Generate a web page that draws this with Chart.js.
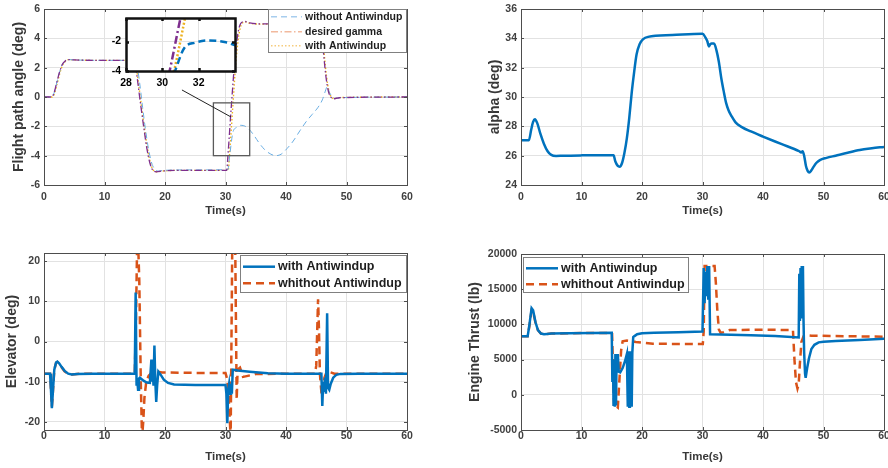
<!DOCTYPE html>
<html lang="en">
<head>
  <meta charset="UTF-8">
  <title>Antiwindup comparison</title>
  <script src="https://cdn.jsdelivr.net/npm/chart.js"></script>
  <style>
    * { margin: 0; padding: 0; box-sizing: border-box; }
    body {
      width: 888px;
      height: 468px;
      background: #fff;
      position: relative;
      overflow: hidden;
    }
    .panel { position: absolute; width: 444px; height: 234px; }
    #insetBox { position: absolute; left: 96px; top: 10px; width: 146px; height: 84px; z-index: 2; }
  </style>
</head>
<body>

  <div class="panel" style="left:0;top:0"><canvas id="gammaChart"></canvas></div>
  <div class="panel" style="left:444px;top:0"><canvas id="alphaChart"></canvas></div>
  <div class="panel" style="left:0;top:234px"><canvas id="elevChart"></canvas></div>
  <div class="panel" style="left:444px;top:234px"><canvas id="thrustChart"></canvas></div>
  <div id="insetBox"><canvas id="insetChart"></canvas></div>

  <script>
    // flight path angle (deg)
    const gammaDesT = [0, 1.2, 1.6, 2.0, 2.5, 3.0, 3.5, 4.0, 5, 8, 14.9, 15.1, 15.5, 16.0, 16.5, 17.0, 17.5, 18.0, 18.6, 19.5, 22, 30.2, 30.4, 31.0, 31.5, 32.0, 32.5, 33.2, 34, 36, 45.6, 45.9, 46.2, 46.6, 47.0, 47.4, 48.0, 48.8, 60];
    const gammaDes  = [0, 0, 0.2, 0.8, 1.6, 2.2, 2.45, 2.55, 2.53, 2.5, 2.5, 2.2, 1.0, -0.6, -2.1, -3.5, -4.5, -5.0, -5.1, -5.05, -5.0, -5.0, -4.0, -0.4, 2.3, 4.2, 5.0, 5.15, 5.05, 4.98, 4.95, 4.4, 3.0, 1.4, 0.4, 0.0, -0.12, -0.05, 0];

    const gammaWithT = [0, 1.3, 1.7, 2.1, 2.6, 3.1, 3.6, 4.1, 5, 8, 15.0, 15.2, 15.6, 16.1, 16.6, 17.1, 17.6, 18.1, 18.7, 19.6, 22, 30.45, 30.65, 31.25, 31.7, 32.2, 32.7, 33.3, 34, 36, 45.7, 46.0, 46.3, 46.7, 47.1, 47.5, 48.1, 48.9, 60];
    const gammaWith  = [0, 0, 0.2, 0.8, 1.6, 2.2, 2.45, 2.55, 2.53, 2.5, 2.5, 2.2, 1.0, -0.6, -2.1, -3.5, -4.5, -5.0, -5.1, -5.05, -5.0, -5.0, -4.0, -0.4, 2.3, 4.2, 5.0, 5.12, 5.03, 4.97, 4.95, 4.4, 3.0, 1.4, 0.4, 0.0, -0.1, -0.04, 0];

    const gammaWoT = [0, 1.2, 1.6, 2.0, 2.5, 3.0, 3.5, 4.0, 5, 8, 15.1, 15.4, 15.8, 16.3, 16.8, 17.3, 17.8, 18.3, 18.9, 19.8, 25, 30.4, 30.7, 31.2, 31.8, 32.5, 33.5, 34.5, 35.5, 36.5, 37.5, 38.3, 39.2, 40.2, 41.2, 42.3, 43.3, 44.3, 45.3, 46.0, 46.5, 46.8, 47.2, 47.6, 48.1, 48.9, 60];
    const gammaWo  = [0, 0, 0.2, 0.8, 1.6, 2.2, 2.45, 2.55, 2.53, 2.5, 2.5, 2.1, 1.0, -0.7, -2.3, -3.6, -4.5, -4.9, -5.05, -5.0, -4.97, -4.95, -4.0, -2.45, -2.08, -1.93, -2.05, -2.5, -3.1, -3.6, -3.9, -4.0, -3.9, -3.5, -3.0, -2.3, -1.7, -1.2, -0.7, -0.2, 0.4, 0.7, 0.3, 0.05, -0.1, -0.05, 0];

    // angle of attack (deg)
    const alphaT   = [0, 1.3, 1.7, 2.0, 2.3, 2.7, 3.2, 3.8, 4.4, 5.0, 5.8, 7, 10, 15.0, 15.3, 15.6, 16.0, 16.3, 16.7, 17.1, 17.5, 17.9, 18.3, 18.7, 19.1, 19.6, 20.2, 21, 25, 30.0, 30.5, 30.8, 31.05, 31.3, 31.5, 31.9, 32.3, 32.7, 33.1, 33.5, 33.9, 34.3, 34.8, 35.5, 36.5, 38, 40, 43, 46.0, 46.3, 46.55, 46.8, 47.1, 47.4, 47.65, 48.0, 48.3, 48.8, 49.4, 50.5, 52, 54, 56, 58, 60];
    const alphaDeg = [27.05, 27.05, 27.8, 28.3, 28.48, 28.2, 27.5, 26.8, 26.3, 26.05, 25.98, 26.0, 26.02, 26.03, 26.03, 25.6, 25.3, 25.25, 25.5, 26.2, 27.2, 28.6, 30.3, 31.7, 32.9, 33.6, 33.95, 34.1, 34.22, 34.32, 34.05, 33.8, 33.45, 33.6, 33.65, 33.65, 33.2, 32.4, 31.3, 30.4, 29.6, 29.1, 28.7, 28.25, 27.95, 27.65, 27.3, 26.8, 26.3, 26.22, 26.3, 26.0, 25.3, 24.95, 24.85, 25.0, 25.2, 25.5, 25.7, 25.85, 26.0, 26.2, 26.38, 26.5, 26.6];

    // elevator deflection (deg)
    const elevWithT = [0, 1.0, 1.15, 1.3, 1.45, 1.7, 2.0, 2.2, 2.5, 2.9, 3.4, 4.0, 4.6, 5.5, 8, 15.0, 15.15, 15.3, 15.4, 15.55, 15.7, 15.85, 16.1, 16.5, 17.0, 17.5, 17.75, 17.85, 17.95, 18.1, 18.25, 18.4, 18.55, 18.7, 18.9, 19.3, 19.8, 20.5, 21.5, 25, 30.0, 30.15, 30.3, 30.45, 30.6, 30.75, 30.9, 31.05, 31.2, 31.35, 32, 34, 37, 40, 45.85, 46.0, 46.15, 46.3, 46.45, 46.6, 46.8, 46.95, 47.15, 47.4, 47.8, 48.3, 49, 52, 60];
    const elevWith  = [-8, -8, -12, -16.6, -13, -7, -5.2, -5.0, -5.4, -6.3, -7.3, -8.0, -8.2, -8.05, -8, -8, 12.2, -11, -9.5, -12, -9.2, -9.0, -9.3, -9.8, -10.2, -10.3, -4.5, -10, -6, -11, -1, -10, -15, -11, -7.5, -8.3, -9.5, -10.3, -10.7, -10.8, -10.8, -13, -20.3, -12, -10.5, -13, -10.5, -13, -7.0, -7.0, -7.2, -7.5, -7.9, -8.0, -8.0, -16, -10, -12.5, -9, -13, 7.0, -11.5, -12, -10.5, -9, -8.3, -8.05, -8, -8];

    const elevWoT = [0, 1.0, 1.15, 1.3, 1.45, 1.7, 2.0, 2.2, 2.5, 2.9, 3.4, 4.0, 4.6, 5.5, 8, 15.0, 15.2, 15.45, 15.75, 16.0, 16.2, 16.4, 16.6, 16.9, 17.3, 17.8, 18.6, 19.5, 25, 30.0, 30.3, 30.6, 30.85, 31.15, 31.35, 31.6, 31.85, 32.0, 32.4, 32.9, 33.5, 35, 40, 44.8, 45.0, 45.3, 45.45, 45.6, 45.9, 46.1, 46.35, 46.7, 47.2, 48, 60];
    const elevWo  = [-8, -8, -12, -16.2, -13, -7, -5.3, -5.1, -5.5, -6.4, -7.4, -8.0, -8.2, -8.05, -8, -8, 5, 30, 15, -10, -24, -20, -14, -10, -8.5, -7.8, -7.5, -7.7, -7.8, -7.8, -9.5, -16, -24, 30, 26, 25, -14.5, -7, -6.5, -8.8, -8.6, -8.1, -8, -8, -6, 10.5, 3, -8, -13.5, -12, -9, -7.6, -7.6, -8, -8];

    // engine thrust (lb)
    const thrustWithT = [0, 1.1, 1.4, 1.75, 2.0, 2.4, 2.8, 3.3, 3.8, 4.3, 5, 8, 15.0, 15.1, 15.2, 15.3, 15.4, 15.5, 15.6, 15.7, 15.8, 15.9, 16.0, 16.15, 16.4, 16.8, 17.2, 17.5, 17.65, 17.8, 17.9, 18.0, 18.1, 18.2, 18.3, 18.4, 18.55, 18.7, 19.2, 20, 22, 26, 30.0, 30.2, 30.35, 30.5, 30.65, 30.8, 30.95, 31.1, 31.25, 33, 38, 42, 45.9, 46.0, 46.1, 46.2, 46.3, 46.4, 46.5, 46.6, 46.7, 46.8, 46.95, 47.05, 47.3, 47.6, 48.0, 48.5, 49.2, 50, 52, 56, 60];
    const thrustWith  = [8300, 8300, 10000, 12300, 12000, 10300, 9200, 8700, 8600, 8650, 8700, 8750, 8800, 2000, 5000, -1600, 4500, -1700, 5800, -1500, 5500, 3500, 5800, 3300, 3200, 3800, 4800, 5800, -1700, 6200, -1700, 6000, -1700, 6200, -1700, 6000, 8200, 8300, 8600, 8750, 8800, 8900, 9000, 18000, 13000, 17500, 14000, 18300, 13500, 18300, 8600, 8550, 8450, 8350, 8150, 17200, 10500, 18000, 11000, 18300, 12000, 18300, 10500, 6000, 3000, 2400, 3800, 5200, 6500, 7100, 7450, 7550, 7650, 7800, 7950];

    const thrustWoT = [0, 1.1, 1.4, 1.75, 2.0, 2.4, 2.8, 3.3, 3.8, 4.3, 5, 8, 15.05, 15.2, 15.4, 15.7, 16.0, 16.3, 16.55, 16.8, 17.5, 19, 21.8, 30.05, 30.2, 30.35, 32.0, 32.2, 32.45, 32.7, 33.0, 33.5, 34.5, 40, 44.95, 45.2, 45.45, 45.7, 45.9, 46.1, 46.35, 46.7, 47.3, 48, 52, 56, 60];
    const thrustWo  = [8300, 8300, 9800, 12000, 11800, 10200, 9200, 8700, 8600, 8650, 8700, 8750, 8800, 4000, -1800, -1600, -1800, 2600, 6300, 7600, 7700, 7500, 7250, 7200, 9000, 18300, 18300, 16000, 12000, 9300, 8800, 8900, 9200, 9250, 9200, 5000, 1800, 900, 1500, 4500, 7500, 8300, 8450, 8400, 8350, 8300, 8250];

    // axis ticks
    const timeTicks   = [0, 10, 20, 30, 40, 50, 60];
    const gammaTicks  = [-6, -4, -2, 0, 2, 4, 6];
    const alphaTicks  = [24, 26, 28, 30, 32, 34, 36];
    const elevTicks   = [-20, -10, 0, 10, 20];
    const thrustTicks = [-5000, 0, 5000, 10000, 15000, 20000];
    const zoomTimeTicks  = [28, 30, 32];
    const zoomGammaTicks = [-4, -2];

    const FONT = "'Liberation Sans', Arial, sans-serif";
    const TICK_COLOR = '#404040';
    const TITLE_COLOR = '#383838';
    const GRID_COLOR = '#e2e2e2';
    Chart.defaults.font.family = FONT;

    const pts = (xs, ys) => xs.map((x, i) => ({ x: x, y: ys[i] }));

    // axes box with small inward ticks on all four sides
    const framePlugin = {
      id: 'frame',
      afterDraw(chart, args, o) {
        const { ctx, chartArea: a, scales } = chart;
        const len = o.tick || 3;
        const L = Math.round(a.left), R = Math.round(a.right);
        const T = Math.round(a.top), B = Math.round(a.bottom);
        ctx.save();
        ctx.strokeStyle = o.color || '#4d4d4d';
        ctx.lineWidth = o.width || 1;
        ctx.beginPath();
        scales.x.ticks.forEach(t => {
          const px = Math.round(scales.x.getPixelForValue(t.value)) + 0.5;
          ctx.moveTo(px, T); ctx.lineTo(px, T + len);
          ctx.moveTo(px, B); ctx.lineTo(px, B - len);
        });
        scales.y.ticks.forEach(t => {
          const py = Math.round(scales.y.getPixelForValue(t.value)) + 0.5;
          ctx.moveTo(L, py); ctx.lineTo(L + len, py);
          ctx.moveTo(R, py); ctx.lineTo(R - len, py);
        });
        ctx.stroke();
        const off = (o.width || 1) % 2 ? 0.5 : 0;
        ctx.strokeRect(L + off, T + off, R - L, B - T);
        ctx.restore();
      }
    };

    // legend box drawn inside the axes
    const keyPlugin = {
      id: 'keyBox',
      afterDraw(chart, args, o) {
        if (!o || !o.box) return;
        const { ctx } = chart;
        const [l, t, w, h] = o.box;
        ctx.save();
        ctx.fillStyle = '#fff';
        ctx.fillRect(l, t, w, h);
        ctx.strokeStyle = '#808080';
        ctx.lineWidth = 1;
        ctx.strokeRect(l + 0.5, t + 0.5, w - 1, h - 1);
        ctx.font = 'bold ' + o.fontSize + 'px ' + FONT;
        ctx.textBaseline = 'middle';
        chart.data.datasets.forEach((ds, i) => {
          const y = o.rows[i];
          ctx.strokeStyle = ds.keyColor || ds.borderColor;
          ctx.lineWidth = ds.keyWidth || ds.borderWidth;
          ctx.setLineDash(ds.borderDash || []);
          ctx.beginPath();
          ctx.moveTo(o.line[0], y);
          ctx.lineTo(o.line[1], y);
          ctx.stroke();
          ctx.setLineDash([]);
          ctx.fillStyle = '#1e1e1e';
          ctx.fillText(ds.label, o.textX, y);
        });
        ctx.restore();
      }
    };

    // zoomed region outline and pointer towards the inset
    const zoomMarkPlugin = {
      id: 'zoomMark',
      afterDatasetsDraw(chart, args, o) {
        if (!o || !o.box) return;
        const { ctx, scales: { x, y } } = chart;
        const x0 = x.getPixelForValue(o.box[0]), x1 = x.getPixelForValue(o.box[1]);
        const y0 = y.getPixelForValue(o.box[2]), y1 = y.getPixelForValue(o.box[3]);
        ctx.save();
        ctx.strokeStyle = '#5a5a5a';
        ctx.lineWidth = 1.3;
        ctx.strokeRect(x0, y1, x1 - x0, y0 - y1);
        ctx.strokeStyle = '#222';
        ctx.lineWidth = 1;
        ctx.beginPath();
        ctx.moveTo(x.getPixelForValue(o.from[0]), y.getPixelForValue(o.from[1]));
        ctx.lineTo(x.getPixelForValue(o.to[0]), y.getPixelForValue(o.to[1]));
        ctx.stroke();
        ctx.restore();
      }
    };

    // white plot area for the inset (its canvas is transparent elsewhere)
    const insetBgPlugin = {
      id: 'insetBg',
      beforeDraw(chart) {
        const { ctx, chartArea: a } = chart;
        ctx.save();
        ctx.fillStyle = '#fff';
        ctx.fillRect(a.left, a.top, a.right - a.left, a.bottom - a.top);
        ctx.restore();
      }
    };

    function xAxis(tickList, c) {
      return {
        type: 'linear',
        min: c.min, max: c.max,
        afterBuildTicks: s => { s.ticks = tickList.map(v => ({ value: v })); },
        ticks: {
          color: c.tickColor || TICK_COLOR,
          font: { size: 10.5, weight: 'bold' },
          padding: c.tickPad,
          maxRotation: 0,
          autoSkip: false,
          callback: v => String(v)
        },
        grid: { color: GRID_COLOR, drawTicks: false },
        border: { display: false },
        title: {
          display: !!c.title,
          text: c.title,
          color: TITLE_COLOR,
          font: { size: 11.5, weight: 'bold' },
          padding: { top: 0, bottom: c.titlePad || 0 }
        },
        afterFit: s => { s.height = c.size; s.paddingLeft = 0; s.paddingRight = 0; }
      };
    }

    function yAxis(tickList, c) {
      return {
        type: 'linear',
        min: c.min, max: c.max,
        afterBuildTicks: s => { s.ticks = tickList.map(v => ({ value: v })); },
        ticks: {
          color: c.tickColor || TICK_COLOR,
          font: { size: 10.5, weight: 'bold' },
          padding: c.tickPad || 4,
          autoSkip: false,
          callback: v => String(v)
        },
        grid: { color: GRID_COLOR, drawTicks: false },
        border: { display: false },
        title: {
          display: !!c.title,
          text: c.title,
          color: TITLE_COLOR,
          font: { size: 14, weight: 'bold' },
          padding: { top: c.titlePad || 0, bottom: 0 }
        },
        afterFit: s => { s.width = c.size; s.paddingTop = 0; s.paddingBottom = 0; }
      };
    }

    function makeChart(id, datasets, c) {
      return new Chart(document.getElementById(id), {
        type: 'line',
        data: { datasets: datasets },
        options: {
          responsive: true,
          maintainAspectRatio: false,
          animation: false,
          events: [],
          layout: { padding: c.pad },
          elements: {
            point: { radius: 0 },
            line: c.smooth ? { cubicInterpolationMode: 'monotone' } : { tension: 0 }
          },
          scales: { x: c.x, y: c.y },
          plugins: {
            legend: { display: false },
            tooltip: { enabled: false },
            frame: c.frame || {},
            keyBox: c.key || {},
            zoomMark: c.zoom || {}
          }
        },
        plugins: c.plugins || [framePlugin, keyPlugin, zoomMarkPlugin]
      });
    }

    // flight path angle
    makeChart('gammaChart', [
      { label: 'without Antiwindup', data: pts(gammaWoT, gammaWo), borderColor: '#6aaee3', borderWidth: 1, borderDash: [6, 4], keyColor: '#a8cdee', keyWidth: 1.4, order: 2 },
      { label: 'desired gamma', data: pts(gammaDesT, gammaDes), borderColor: '#7E2F8E', borderWidth: 1.3, borderDash: [7, 2.5, 1.5, 2.5], keyColor: '#f2b99d', keyWidth: 1.4, order: 1 },
      { label: 'with Antiwindup', data: pts(gammaWithT, gammaWith), borderColor: '#EDB120', borderWidth: 1.4, borderDash: [1.5, 2], keyColor: '#f6cc7c', keyWidth: 1.5, order: 3 }
    ], {
      smooth: true,
      pad: { left: 0, top: 9, right: 37, bottom: 0 },
      x: xAxis(timeTicks, { min: 0, max: 60, size: 49, tickPad: 6, title: 'Time(s)', titlePad: 16 }),
      y: yAxis(gammaTicks, { min: -6, max: 6, size: 44, title: 'Flight path angle (deg)', titlePad: 10.6 }),
      key: { box: [268, 9, 139, 44], rows: [16.7, 31.8, 45.7], line: [271, 302], textX: 305, fontSize: 10.5 },
      zoom: { box: [28, 34, -4, -0.4], from: [22.8, 0.48], to: [30.9, -1.36] }
    });

    // angle of attack
    makeChart('alphaChart', [
      { label: 'alpha', data: pts(alphaT, alphaDeg), borderColor: '#0072BD', borderWidth: 2.5 }
    ], {
      smooth: true,
      pad: { left: 0, top: 9, right: 4, bottom: 0 },
      x: xAxis(timeTicks, { min: 0, max: 60, size: 49, tickPad: 6, title: 'Time(s)', titlePad: 16 }),
      y: yAxis(alphaTicks, { min: 24, max: 36, size: 77, title: 'alpha (deg)', titlePad: 42.6 })
    });

    // elevator
    makeChart('elevChart', [
      { label: 'with Antiwindup', data: pts(elevWithT, elevWith), borderColor: '#0072BD', borderWidth: 2.5 },
      { label: 'whithout Antiwindup', data: pts(elevWoT, elevWo), borderColor: '#D95319', borderWidth: 2.5, borderDash: [8, 5] }
    ], {
      pad: { left: 0, top: 19, right: 37, bottom: 0 },
      x: xAxis(timeTicks, { min: 0, max: 60, size: 38, tickPad: 0, title: 'Time(s)', titlePad: 4 }),
      y: yAxis(elevTicks, { min: -22, max: 22, size: 44, title: 'Elevator (deg)', titlePad: 4.1 }),
      key: { box: [240, 21, 167, 38], rows: [32.7, 49.3], line: [243, 275], textX: 278, fontSize: 12.5 }
    });

    // engine thrust
    makeChart('thrustChart', [
      { label: 'with Antiwindup', data: pts(thrustWithT, thrustWith), borderColor: '#0072BD', borderWidth: 2.5 },
      { label: 'whithout Antiwindup', data: pts(thrustWoT, thrustWo), borderColor: '#D95319', borderWidth: 2.5, borderDash: [8, 5] }
    ], {
      pad: { left: 0, top: 20, right: 4, bottom: 0 },
      x: xAxis(timeTicks, { min: 0, max: 60, size: 38, tickPad: 0, title: 'Time(s)', titlePad: 4 }),
      y: yAxis(thrustTicks, { min: -5000, max: 20000, size: 77, title: 'Engine Thrust (lb)', titlePad: 22.6 }),
      key: { box: [79, 23, 166, 36], rows: [34.3, 50.3], line: [82, 114], textX: 117, fontSize: 12.5 }
    });

    // close-up of the flight path angle around t = 30 s
    makeChart('insetChart', [
      { label: 'without Antiwindup', data: pts(gammaWoT, gammaWo), borderColor: '#0072BD', borderWidth: 2.5, borderDash: [7, 4], order: 2 },
      { label: 'desired gamma', data: pts(gammaDesT, gammaDes), borderColor: '#7E2F8E', borderWidth: 2.5, borderDash: [8, 3, 2, 3], order: 1 },
      { label: 'with Antiwindup', data: pts(gammaWithT, gammaWith), borderColor: '#EDB120', borderWidth: 2.5, borderDash: [2, 2], order: 3 }
    ], {
      smooth: true,
      pad: { left: 0, top: 8, right: 7, bottom: 0 },
      x: xAxis(zoomTimeTicks, { min: 28, max: 34, size: 23, tickPad: 6, tickColor: '#000' }),
      y: yAxis(zoomGammaTicks, { min: -4, max: -0.4, size: 30, tickPad: 5, tickColor: '#000' }),
      frame: { color: '#111', width: 2.5, tick: 3 },
      plugins: [insetBgPlugin, framePlugin]
    });
  </script>

</body>
</html>
